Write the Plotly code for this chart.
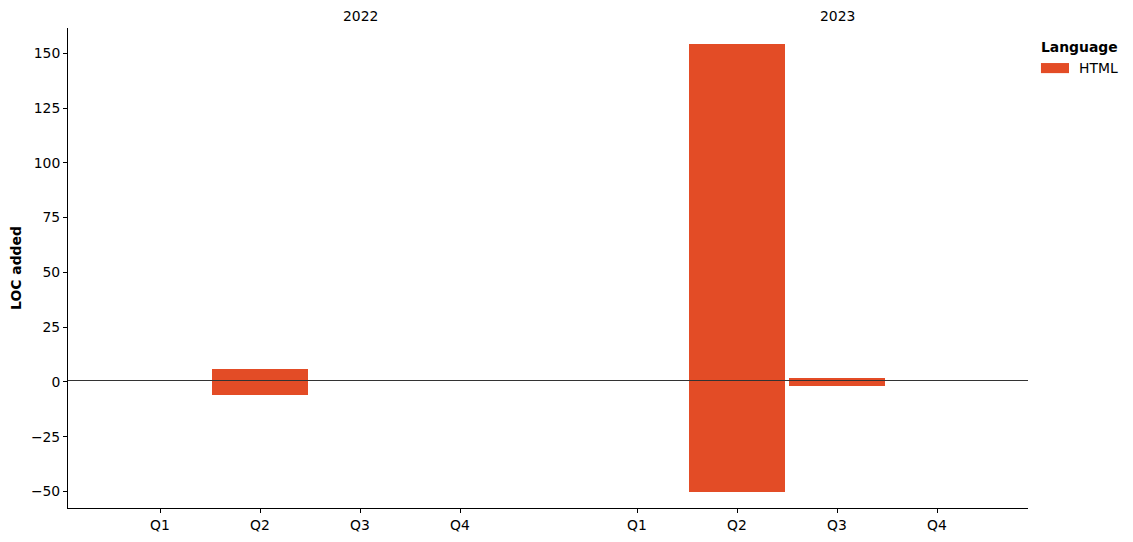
import plotly.graph_objects as go

# data
years = ["2022", "2023"]
quarters = ["Q1", "Q2", "Q3", "Q4"]
loc_added = [0, 6, 0, 0, 0, 154, 2, 0]
loc_removed = [0, -6, 0, 0, 0, -50, -2, 0]
language = "HTML"
color = "#E34C26"

# x positions: two groups of four quarters with a gap between years
gap = 0.77
xpos = [i + (i // 4) * gap for i in range(len(years) * len(quarters))]
xlabels = quarters * len(years)

font = dict(family="DejaVu Sans", size=13.9, color="black")

fig = go.Figure()
fig.add_trace(go.Bar(x=xpos, y=loc_added, width=0.96, marker_color=color,
                     marker_line_width=0, name=language, showlegend=False))
fig.add_trace(go.Bar(x=xpos, y=loc_removed, width=0.96, marker_color=color,
                     marker_line_width=0, name=language, showlegend=False))

# reference line sits a hair above 0, nudge it so it lands on a full pixel
fig.add_hline(y=0.67, line_color="#333333", line_width=1)

# facet-like year titles above the plot
for k, yr in enumerate(years):
    fig.add_annotation(x=xpos[k * 4 + 2], y=1.025, xref="x", yref="paper",
                       text=yr, showarrow=False, font=font, yanchor="middle")

# legend drawn by hand to match the wide swatch
fig.add_annotation(x=1.0135, y=0.960, xref="paper", yref="paper", text="<b>Language</b>",
                   showarrow=False, xanchor="left", yanchor="middle", font=font,
                   xshift=-2)
fig.add_shape(type="rect", xref="paper", yref="paper", x0=1.0135, x1=1.0427,
              y0=0.906, y1=0.927, fillcolor=color, line_width=0)
fig.add_annotation(x=1.0531, y=0.917, xref="paper", yref="paper", text=language,
                   showarrow=False, xanchor="left", yanchor="middle", font=font,
                   xshift=-2)

# page body has an 8px margin, so the figure is 8px smaller each way
fig.update_layout(
    width=1125, height=534,
    margin=dict(l=60, r=105, t=20, b=34, autoexpand=False),
    plot_bgcolor="white", paper_bgcolor="white",
    barmode="overlay", bargap=0,
    font=font,
    showlegend=False,
)
fig.update_xaxes(range=[-0.92, 8.68], tickvals=xpos, ticktext=xlabels,
                 showline=True, linecolor="black", linewidth=1,
                 ticks="outside", ticklen=4, tickcolor="black",
                 showgrid=False, zeroline=False, automargin=False)
fig.update_yaxes(range=[-57.5, 161.5], tickvals=list(range(-50, 151, 25)),
                 ticktext=[f"\u2212{abs(v)}" if v < 0 else str(v) for v in range(-50, 151, 25)],
                 showline=True, linecolor="black", linewidth=1,
                 ticks="outside", ticklen=4, tickcolor="black",
                 showgrid=False, zeroline=False, automargin=False,
                 title=dict(text="<b>LOC added</b>", standoff=7, font=font))

fig.write_html("out.html")
